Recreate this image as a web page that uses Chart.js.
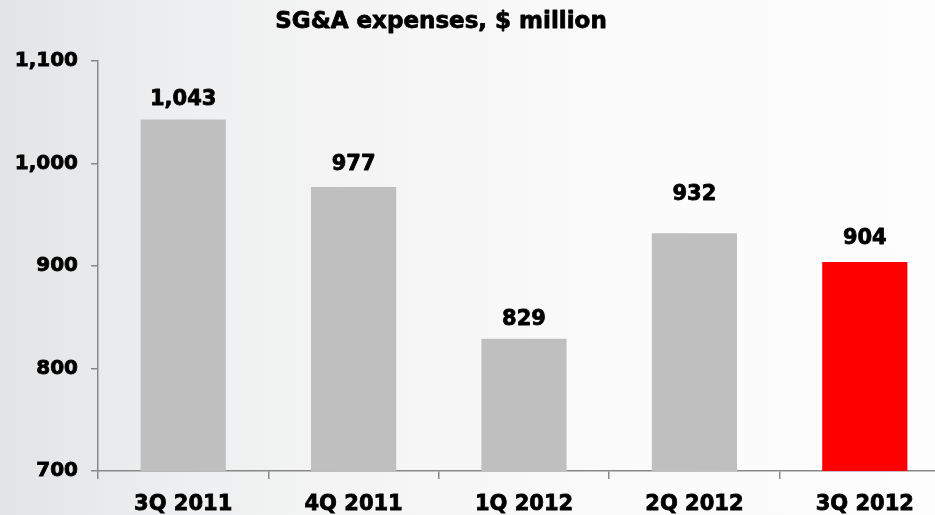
<!DOCTYPE html>
<html>
<head>
<meta charset="utf-8">
<script src="https://cdn.jsdelivr.net/npm/chart.js@4/dist/chart.umd.min.js"></script>
<style>
  html, body { margin: 0; padding: 0; overflow: hidden; }
  body {
    width: 935px; height: 515px;
    background: linear-gradient(90deg, #e3e4e5 0%, #eeeff0 20%, #f6f6f6 45%, #fbfbfb 70%, #fdfdfd 100%);
  }
  #wrap { position: relative; width: 950px; height: 515px; }
</style>
</head>
<body>
<div id="wrap"><canvas id="sga"></canvas></div>
<script>
const quarters = ['3Q 2011', '4Q 2011', '1Q 2012', '2Q 2012', '3Q 2012'];
const sgaValues = [1043, 977, 829, 932, 904];
const barColors = ['#bfbfbf', '#bfbfbf', '#bfbfbf', '#bfbfbf', '#ff0000'];
const yTicks = [700, 800, 900, 1000, 1100];

const FONT = '"DejaVu Sans", Verdana, sans-serif';
const fmt = v => v.toLocaleString('en-US');

// heavier text, the original uses a very bold face
function boldText(ctx, text, x, y) {
    ctx.lineWidth = 0.8;
    ctx.strokeStyle = '#000';
    ctx.lineJoin = 'round';
    ctx.strokeText(text, x, y);
    ctx.fillText(text, x, y);
}

// title drawn by hand so it sits where the original puts it
const titlePlugin = {
    id: 'titleText',
    afterDraw(chart) {
        const ctx = chart.ctx;
        ctx.save();
        ctx.font = 'bold 23px ' + FONT;
        ctx.fillStyle = '#000';
        ctx.textAlign = 'center';
        ctx.textBaseline = 'alphabetic';
        boldText(ctx, 'SG&A expenses, $ million', 441, 28);
        ctx.restore();
    }
};

const valueLabels = {
    id: 'valueLabels',
    afterDatasetsDraw(chart, args, opts) {
        const ctx = chart.ctx;
        const meta = chart.getDatasetMeta(0);
        ctx.save();
        ctx.font = 'bold 21px ' + FONT;
        ctx.fillStyle = '#000';
        ctx.textAlign = 'center';
        ctx.textBaseline = 'middle';
        meta.data.forEach((bar, i) => {
            const lift = opts.lift[i] ?? 21;
            boldText(ctx, fmt(sgaValues[i]), bar.x, bar.y - lift);
        });
        ctx.restore();
    }
};

new Chart(document.getElementById('sga'), {
    type: 'bar',
    data: {
        labels: quarters,
        datasets: [{
            data: sgaValues,
            backgroundColor: barColors,
            borderWidth: 0,
            categoryPercentage: 1,
            barPercentage: 0.5
        }]
    },
    options: {
        responsive: true,
        maintainAspectRatio: false,
        animation: false,
        layout: { padding: { top: 61, right: 0, bottom: 0, left: 0 } },
        plugins: {
            legend: { display: false },
            tooltip: { enabled: false },
            valueLabels: { lift: [20, 23, 19, 39, 23] }
        },
        scales: {
            x: {
                offset: true,
                grid: { drawOnChartArea: false, offset: true, tickLength: 8, color: '#888', lineWidth: 1.5 },
                border: { color: '#888', width: 1.5 },
                ticks: {
                    color: '#000', font: { family: FONT, size: 21, weight: 'bold' }, padding: 13, maxRotation: 0,
                    textStrokeColor: '#000', textStrokeWidth: 0.8
                },
                afterFit(scale) { scale.height = 44; }
            },
            y: {
                min: 700,
                max: 1100,
                afterBuildTicks(scale) { scale.ticks = yTicks.map(v => ({ value: v })); },
                grid: { drawOnChartArea: false, tickLength: 7, color: '#888', lineWidth: 1.5 },
                border: { color: '#888', width: 1.5 },
                ticks: {
                    color: '#000', font: { family: FONT, size: 20, weight: 'bold' }, padding: 13, callback: v => fmt(v),
                    textStrokeColor: '#000', textStrokeWidth: 0.8
                },
                afterFit(scale) { scale.width = 98; }
            }
        }
    },
    plugins: [titlePlugin, valueLabels]
});
</script>
</body>
</html>
